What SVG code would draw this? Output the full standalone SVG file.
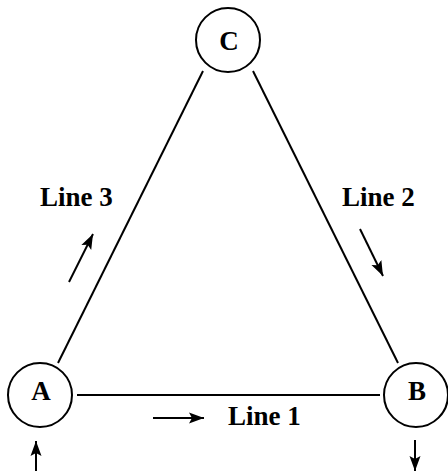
<svg xmlns="http://www.w3.org/2000/svg" width="448" height="473" viewBox="0 0 448 473">
<defs>
<marker id="ah" markerUnits="userSpaceOnUse" markerWidth="16" markerHeight="12" refX="15" refY="6" orient="auto">
<path d="M0,0.5 L15,6 L0,11.5 L3,6 Z" fill="#000"/>
</marker>
<style>
.node circle{fill:#fff;stroke:#000;stroke-width:2}
.lbl{font-family:"Liberation Serif","Times New Roman",serif;font-weight:bold;font-size:27px;fill:#000}
.edge{stroke:#000;stroke-width:2;fill:none}
.arr{stroke:#000;stroke-width:2;fill:none;marker-end:url(#ah)}
</style>
</defs>
<rect width="448" height="473" fill="#fff"/>
<g id="connectors">
<line class="edge" x1="77" y1="395" x2="380" y2="395"/>
<line class="edge" x1="203" y1="71" x2="58" y2="363"/>
<line class="edge" x1="253" y1="71" x2="398" y2="363"/>
<line class="arr" x1="36" y1="471" x2="36" y2="441"/>
<line class="arr" x1="415" y1="440" x2="415" y2="471"/>
<line class="arr" x1="69" y1="282" x2="93" y2="234"/>
<line class="arr" x1="360" y1="229" x2="383" y2="276"/>
<line class="arr" x1="153" y1="418" x2="204" y2="418"/>
</g>
<g id="node-A" class="node"><circle cx="40" cy="395" r="32"/><text class="lbl" x="41" y="400" text-anchor="middle">A</text></g>
<g id="node-B" class="node"><circle cx="416" cy="395" r="32"/><text class="lbl" x="417" y="400" text-anchor="middle">B</text></g>
<g id="node-C" class="node"><circle cx="228" cy="40" r="32"/><text class="lbl" x="229" y="50" text-anchor="middle">C</text></g>
<g id="labels">
<text class="lbl" x="40" y="206">Line 3</text>
<text class="lbl" x="342" y="206">Line 2</text>
<text class="lbl" x="228" y="425">Line 1</text>
</g>
</svg>
